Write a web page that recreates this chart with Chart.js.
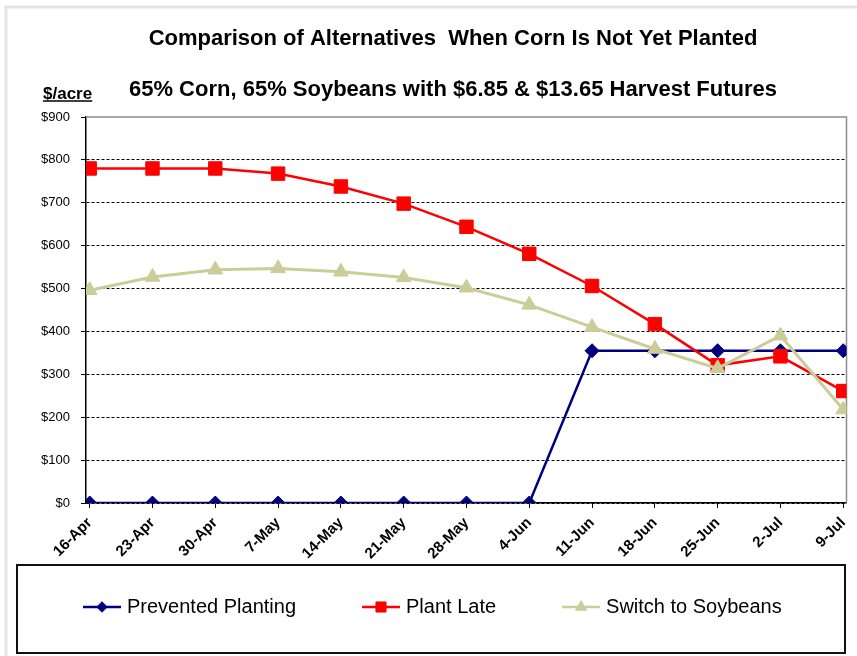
<!DOCTYPE html>
<html>
<head>
<meta charset="utf-8">
<title>Comparison of Alternatives When Corn Is Not Yet Planted</title>
<script src="https://cdn.jsdelivr.net/npm/chart.js@4"></script>
<style>
  html, body { margin: 0; padding: 0; background: #fff; }
  #wrap { width: 857px; height: 656px; }
</style>
</head>
<body>
<div id="wrap"><canvas id="chart" width="857" height="656"></canvas></div>
<script>
// ---- data ----
const dates = ['16-Apr', '23-Apr', '30-Apr', '7-May', '14-May', '21-May', '28-May',
               '4-Jun', '11-Jun', '18-Jun', '25-Jun', '2-Jul', '9-Jul'];
const preventedPlanting = [0, 0, 0, 0, 0, 0, 0, 0, 355, 355, 355, 355, 355];
const plantLate         = [780, 780, 780, 768, 738, 698, 644, 581, 506, 417, 321, 342, 261];
const switchToSoybeans  = [496, 527, 544, 547, 539, 526, 502, 462, 410, 359, 314, 390, 218];
const yTicks = [0, 100, 200, 300, 400, 500, 600, 700, 800, 900];

const FONT = '"Liberation Sans", Arial, sans-serif';

const toXY = arr => arr.map((v, i) => ({ x: i, y: v }));

// legend icon: line with the series marker in the middle
function legendIcon(ds) {
  const c = document.createElement('canvas');
  c.width = 84; c.height = 20;
  const g = c.getContext('2d');
  g.strokeStyle = ds.borderColor;
  g.lineWidth = 2.5;
  g.beginPath(); g.moveTo(44, 10); g.lineTo(82, 10); g.stroke();
  g.fillStyle = ds.pointBackgroundColor;
  g.strokeStyle = ds.pointBorderColor;
  g.lineWidth = 1;
  Chart.helpers.drawPoint(g, { pointStyle: ds.pointStyle, radius: ds.pointRadius * 0.75, rotation: 0, borderWidth: 1 }, 63, 10);
  return c;
}

// background, outer frame, plot border, titles, legend box
const framePlugin = {
  id: 'frame',
  beforeDraw(chart) {
    const ctx = chart.ctx;
    ctx.save();
    ctx.fillStyle = '#fff';
    ctx.fillRect(0, 0, chart.width, chart.height);
    ctx.strokeStyle = '#e4e4e4';
    ctx.lineWidth = 3;
    ctx.beginPath();
    ctx.moveTo(6, chart.height); ctx.lineTo(6, 7); ctx.lineTo(chart.width, 7);
    ctx.stroke();
    ctx.restore();
  },
  beforeDatasetsDraw(chart) {
    const { ctx, chartArea: a } = chart;
    ctx.save();
    ctx.strokeStyle = '#8c8c8c';
    ctx.lineWidth = 1.5;
    ctx.beginPath();
    ctx.moveTo(a.left, a.top); ctx.lineTo(a.right, a.top); ctx.lineTo(a.right, a.bottom);
    ctx.stroke();
    ctx.restore();
  },
  afterDraw(chart) {
    const ctx = chart.ctx;
    const lg = chart.legend;
    ctx.save();
    // legend box
    ctx.strokeStyle = '#111';
    ctx.lineWidth = 2;
    ctx.strokeRect(lg.left, lg.top - 4, lg.width - 4, chart.height - 3 - (lg.top - 4));
    // titles
    ctx.fillStyle = '#000';
    ctx.textAlign = 'center';
    ctx.textBaseline = 'middle';
    ctx.font = 'bold 22px ' + FONT;
    ctx.fillText('Comparison of Alternatives  When Corn Is Not Yet Planted', 453, 39);
    ctx.fillText('65% Corn, 65% Soybeans with $6.85 & $13.65 Harvest Futures', 453, 90);
    // unit label
    ctx.textAlign = 'left';
    ctx.font = 'bold 17px ' + FONT;
    const u = '$/acre';
    ctx.fillText(u, 43, 94);
    const w = ctx.measureText(u).width;
    ctx.strokeStyle = '#000';
    ctx.lineWidth = 1.5;
    ctx.beginPath(); ctx.moveTo(43, 101); ctx.lineTo(43 + w, 101); ctx.stroke();
    ctx.restore();
  }
};

new Chart(document.getElementById('chart'), {
  type: 'line',
  data: {
    datasets: [
      {
        label: 'Prevented Planting', data: toXY(preventedPlanting), order: 3,
        borderColor: '#000080', backgroundColor: '#000080', borderWidth: 2.5,
        pointStyle: 'rectRot', pointRadius: 7, pointBackgroundColor: '#000080', pointBorderColor: '#000080'
      },
      {
        label: 'Plant Late', data: toXY(plantLate), order: 2,
        borderColor: '#ff0000', backgroundColor: '#ff0000', borderWidth: 2.5,
        pointStyle: 'rect', pointRadius: 9.5, pointBackgroundColor: '#ff0000', pointBorderColor: '#ff0000'
      },
      {
        label: 'Switch to Soybeans', data: toXY(switchToSoybeans), order: 1,
        borderColor: '#cccc99', backgroundColor: '#cccc99', borderWidth: 3,
        pointStyle: 'triangle', pointRadius: 8.5, pointBackgroundColor: '#cccc99', pointBorderColor: '#cccc99'
      }
    ]
  },
  options: {
    responsive: false,
    animation: false,
    layout: { padding: { top: 117, left: 17, right: 8, bottom: 29 } },
    elements: { line: { tension: 0 }, point: { pointBorderWidth: 1 } },
    plugins: {
      title: { display: false },
      tooltip: { enabled: false },
      legend: {
        position: 'bottom',
        align: 'start',
        labels: {
          usePointStyle: true,
          pointStyleWidth: 72,
          padding: 28,
          color: '#000',
          font: { family: FONT, size: 20 },
          generateLabels: chart => chart.data.datasets.map((ds, i) => ({
            text: ds.label,
            pointStyle: legendIcon(ds),
            datasetIndex: i,
            fontColor: '#000',
            fillStyle: 'transparent',
            strokeStyle: 'transparent',
            lineWidth: 0,
            hidden: false
          }))
        }
      }
    },
    scales: {
      x: {
        type: 'linear',
        min: -0.059,
        max: 12.052,
        afterBuildTicks: s => { s.ticks = dates.map((d, i) => ({ value: i })); },
        afterFit: s => { s.height = 66; s.paddingLeft = 0; s.paddingRight = 0; },
        grid: { drawOnChartArea: false, tickLength: 5, tickColor: '#000', tickWidth: 1 },
        border: { color: '#000', width: 1.5 },
        ticks: {
          autoSkip: false,
          minRotation: 45, maxRotation: 45,
          padding: 6,
          color: '#000',
          font: { family: FONT, size: 15, weight: 'bold' },
          callback: (v, i) => dates[i]
        }
      },
      y: {
        min: 0,
        max: 900,
        afterBuildTicks: s => { s.ticks = yTicks.map(v => ({ value: v })); },
        afterFit: s => { s.width = 69; },
        grid: {
          color: c => (c.tick && c.tick.value === 900) ? 'rgba(0,0,0,0)' : '#000',
          lineWidth: 1,
          tickLength: 5, tickColor: '#000', tickWidth: 1
        },
        border: { color: '#000', width: 1.5, dash: [3, 2] },
        ticks: {
          padding: 11,
          color: '#000',
          font: { family: FONT, size: 13 },
          callback: v => '$' + v
        }
      }
    }
  },
  plugins: [framePlugin]
});
</script>
</body>
</html>
